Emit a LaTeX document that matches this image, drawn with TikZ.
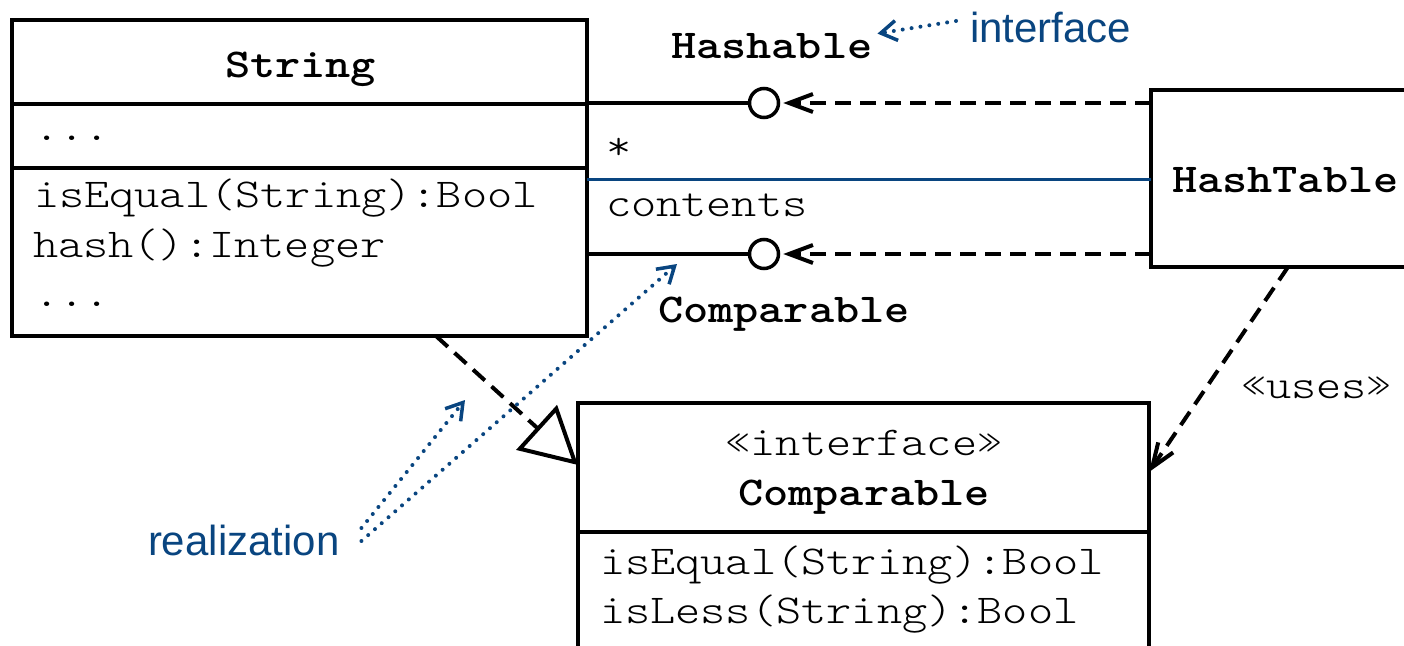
\documentclass[tikz,border=0pt]{standalone}
\usepackage{fontspec}
\setsansfont{Liberation Sans}
\newfontfamily\umlfont{lmmonolt10-regular.otf}[BoldFont=lmmonolt10-bold.otf, FakeStretch=1.17]
\usetikzlibrary{arrows.meta,calc}
\definecolor{noteblue}{RGB}{9,69,128}
\tikzset{
  umlbox/.style={draw, line width=4pt, inner sep=0pt, outer sep=0pt},
  txt/.style={inner sep=0pt, outer sep=0pt, anchor=base west,
    font=\fontsize{41}{48}\selectfont\umlfont},
  btxt/.style={txt, font=\fontsize{41}{48}\selectfont\umlfont\bfseries},
  note/.style={inner sep=0pt, outer sep=0pt, anchor=base west, text=noteblue,
    font=\fontsize{42}{48}\selectfont\sffamily},
  lolli/.style={draw, circle, line width=3.5pt, minimum size=29pt, inner sep=0pt, fill=white},
  solidline/.style={line width=4pt},
  dep/.style={line width=4pt, dash pattern=on 16pt off 9pt},
  barb/.style={-{Straight Barb[length=24pt, width=18pt]}},
  bluedot/.style={noteblue, line width=4pt, dash pattern=on 0pt off 9pt, line cap=round,
    -{Straight Barb[length=16pt, width=20pt, line width=3.5pt, line cap=butt]}},
}
\begin{document}
\begin{tikzpicture}[x=1pt, y=-1pt]
\useasboundingbox (0,0) rectangle (1404,645);
\clip (0,0) rectangle (1404,645);

% class String
\node[umlbox, minimum width=575pt, minimum height=316pt, anchor=north west] (string) at (12,20) {};
\draw[solidline] (string.west |- 0,104) -- (string.east |- 0,104);
\draw[solidline] (string.west |- 0,168) -- (string.east |- 0,168);
\node[btxt] (sname) at (225,77) {String};
\node[txt] (sattr) at (34,140) {...};
\node[txt] (sop1) at (34,207) {isEqual(String):Bool};
\node[txt] (sop2) at (33,257) {hash():Integer};
\node[txt] (sop3) at (34,306) {...};

% class HashTable
\node[umlbox, minimum width=300pt, minimum height=177pt, anchor=north west] (hashtable) at (1151,90) {};
\node[btxt] (htname) at (1172,192) {HashTable};

% interface Comparable
\node[umlbox, minimum width=571pt, minimum height=300pt, anchor=north west] (comparable) at (578,403) {};
\draw[solidline] (comparable.west |- 0,532) -- (comparable.east |- 0,532);
\node[txt, anchor=base] (stereo) at (864,455) {«interface»};
\node[btxt, anchor=base] (cname) at (864,505) {Comparable};
\node[txt] (cop1) at (600,574) {isEqual(String):Bool};
\node[txt] (cop2) at (600,623) {isLess(String):Bool};

% provided interfaces (lollipops)
\node[lolli] (hashable) at (764,103) {};
\node[lolli] (compar) at (764,254) {};
\draw[solidline] (string.east |- hashable) -- (hashable.west);
\draw[solidline] (string.east |- compar) -- (compar.west);
\draw[dep, barb, shorten >=3pt] (hashtable.west |- hashable) -- (hashable.east);
\draw[dep, barb, shorten >=3pt] (hashtable.west |- compar) -- (compar.east);
\node[btxt] (hashlabel) at (671,58) {Hashable};
\node[btxt] (complabel) at (658,322) {Comparable};

% association String -- HashTable
\draw[noteblue, line width=3pt] (string.east |- 0,179) -- (hashtable.west |- 0,179);
\node[txt] (mult) at (606,159) {*};
\node[txt] (role) at (606,216) {contents};

% realization String -> Comparable
\draw[dep, -{Triangle[open, length=56pt, width=60pt, line width=4pt]}]
  (436,0 |- string.south) -- (comparable.west |- 0,465);

% usage HashTable -> Comparable
\draw[dep, barb] (1288,0 |- hashtable.south) -- (comparable.east |- 0,472);
\node[txt] (uses) at (1241,398) {«uses»};

% annotations
\node[note] (iface) at (970,42) {interface};
\draw[bluedot] ($(iface.west)+(-14,-6)$) -- ($(hashlabel.east)+(5,-12)$);
\node[note] (real) at (148,555) {realization};
\coordinate (rtip1) at (465,400);
\coordinate (rtip2) at (677,264);
\draw[bluedot] ($(real.east)+(22,-12)$) -- (rtip1);
\draw[bluedot] ($(real.east)+(22,1)$) -- (rtip2);
\end{tikzpicture}
\end{document}
